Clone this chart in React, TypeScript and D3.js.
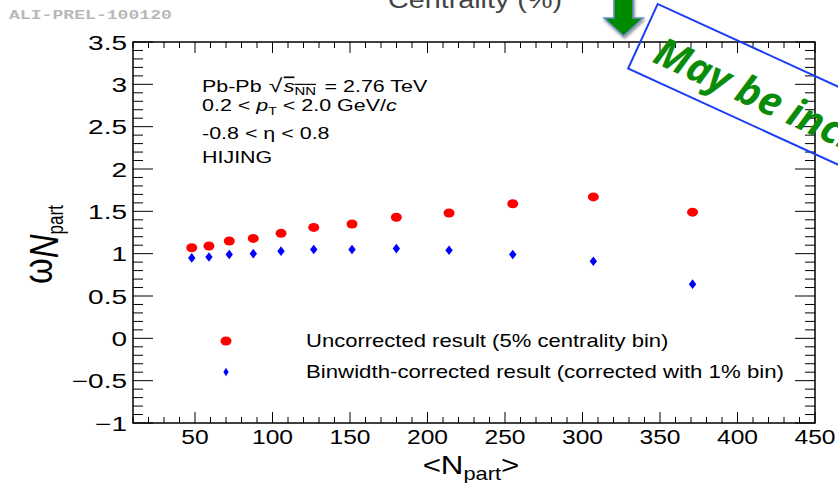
import React from "react";
import * as d3 from "d3";

const nPart = [47.9, 59, 72.1, 87.6, 105.5, 126.6, 151.3, 179.9, 213.9, 255, 307, 371];
const uncorrected = [1.07, 1.09, 1.15, 1.18, 1.24, 1.31, 1.35, 1.43, 1.48, 1.59, 1.67, 1.49];
const corrected = [0.95, 0.96, 0.99, 1.0, 1.03, 1.05, 1.05, 1.06, 1.04, 0.99, 0.91, 0.64];
const xTicks = [50, 100, 150, 200, 250, 300, 350, 400, 450];
const yTicks = [-1, -0.5, 0, 0.5, 1, 1.5, 2, 2.5, 3, 3.5];
const legendLabels = [
  "Uncorrected result (5% centrality bin)",
  "Binwidth-corrected result (corrected with 1% bin)",
];
const infoLines = ["0.2 < p", "-0.8 < η < 0.8", "HIJING"];

const W = 838;
const H = 483;
const L = 133, R = 815, T = 42, B = 423;
const FONT = "'Liberation Sans', Arial, Helvetica, sans-serif";

const x = d3.scaleLinear().domain([10, 450]).range([L, R]);
const y = d3.scaleLinear().domain([-1, 3.5]).range([B, T]);

function ST({ x: px, y: py, sx = 1.22, size, anchor = "start", children, ...rest }: any) {
  return (
    <text
      transform={`translate(${px},${py}) scale(${sx},1)`}
      fontSize={size}
      textAnchor={anchor}
      fontFamily={FONT}
      {...rest}
    >
      {children}
    </text>
  );
}

function fmt(v: number) {
  const s = String(v);
  return s.startsWith("-") ? "\u2212" + s.slice(1) : s;
}

function Diamond({ cx, cy, w, h, fill }: any) {
  return (
    <path
      d={`M${cx},${cy - h} L${cx + w},${cy} L${cx},${cy + h} L${cx - w},${cy} Z`}
      fill={fill}
    />
  );
}

export default function App() {
  const xMinor = d3.range(10, 451, 10);
  const yMinor = d3.range(-1, 3.5001, 0.1);
  const ang = 24.6;
  return (
    <svg
      width={W}
      height={H}
      style={{ position: "absolute", left: 0, top: 0, background: "#fff" }}
    >
      <defs>
        <filter id="shadow" x="-50%" y="-50%" width="200%" height="200%">
          <feDropShadow dx="1" dy="2" stdDeviation="1.5" floodColor="#000" floodOpacity="0.45" />
        </filter>
      </defs>
      <rect width={W} height={H} fill="#fff" />
      {/* watermark */}
      <ST x={9} y={19} sx={1.45} size={12.5} fontFamily="'Liberation Mono', monospace" fill="#b8b8b8" fontWeight="bold">
        ALI-PREL-100120
      </ST>
      {/* cut top title */}
      <ST x={475} y={8} sx={1.25} size={23} anchor="middle" fill="#444">
        Centrality (%)
      </ST>
      {/* arrow */}
      <path
        d="M614,-3 L633,-3 L633,18 L643,18 L623.5,36 L604,18 L614,18 Z"
        fill="#008a00"
        stroke="#6a8fc8"
        strokeWidth={1.5}
        filter="url(#shadow)"
      />

      {/* ticks */}
      <g stroke="#000" strokeWidth={1}>
        {xMinor.map((v) => {
          const major = v % 50 === 0;
          const len = major ? 11 : 6;
          return (
            <g key={"xm" + v}>
              <line x1={x(v)} x2={x(v)} y1={B} y2={B - len} />
              <line x1={x(v)} x2={x(v)} y1={T} y2={T + len} />
            </g>
          );
        })}
        {yMinor.map((v, i) => {
          const major = i % 5 === 0;
          const len = major ? 20 : 10;
          return (
            <g key={"ym" + i}>
              <line x1={L} x2={L + len} y1={y(v)} y2={y(v)} />
              <line x1={R} x2={R - len} y1={y(v)} y2={y(v)} />
            </g>
          );
        })}
      </g>
      <rect x={L} y={T} width={R - L} height={B - T} fill="none" stroke="#000" strokeWidth={1.5} />

      {/* tick labels */}
      {xTicks.map((v) => (
        <ST key={"xl" + v} x={x(v)} y={444} size={20.5} sx={1.2} anchor="middle">
          {v}
        </ST>
      ))}
      {yTicks.map((v) => (
        <ST key={"yl" + v} x={127} y={y(v) + 7.5} size={20} sx={1.4} anchor="end">
          {fmt(v)}
        </ST>
      ))}

      {/* axis titles */}
      <ST x={471} y={474} size={25} sx={1.25} anchor="middle">
        {"<N"}
        <tspan fontSize={17.5} dy={6}>part</tspan>
        <tspan dy={-6}>{">"}</tspan>
      </ST>
      <g transform="translate(52,284) scale(1.25,1) rotate(-90)">
        <text fontFamily={FONT} fontSize={33}>
          ω
          <tspan fontStyle="italic" dy={5}>N</tspan>
          <tspan fontSize={17} dy={4}>part</tspan>
        </text>
      </g>

      {/* info text */}
      <ST x={202} y={92} size={16.5} sx={1.3}>
        Pb-Pb <tspan fontSize={19} dx={1}>√</tspan>
        <tspan fontStyle="italic" textDecoration="overline" dx={1}>s</tspan>
        <tspan fontSize={11.5} dy={3} textDecoration="overline">NN</tspan>
        <tspan dy={-3} dx={2}> = 2.76 TeV</tspan>
      </ST>
      <ST x={202} y={111} size={16.5} sx={1.3}>
        0.2 &lt; <tspan fontStyle="italic">p</tspan>
        <tspan fontSize={11} dy={4}>T</tspan>
        <tspan dy={-4}> &lt; 2.0 GeV/</tspan>
        <tspan fontStyle="italic">c</tspan>
      </ST>
      <ST x={202} y={139} size={16.5} sx={1.3}>
        {infoLines[1]}
      </ST>
      <ST x={202} y={163} size={16.5} sx={1.3}>
        {infoLines[2]}
      </ST>

      {/* data */}
      {nPart.map((n, i) => (
        <ellipse key={"r" + i} cx={x(n)} cy={y(uncorrected[i])} rx={5.5} ry={4.5} fill="#ff0000" />
      ))}
      {nPart.map((n, i) => (
        <Diamond key={"b" + i} cx={x(n)} cy={y(corrected[i])} w={3.7} h={4.8} fill="#0000ff" />
      ))}

      {/* legend */}
      <ellipse cx={226} cy={341} rx={5.5} ry={4.5} fill="#ff0000" />
      <Diamond cx={226} cy={372} w={2.6} h={4.3} fill="#0000ff" />
      <ST x={306} y={347} size={18} sx={1.225}>
        {legendLabels[0]}
      </ST>
      <ST x={306} y={378} size={18} sx={1.235}>
        {legendLabels[1]}
      </ST>

      {/* overlay stamp */}
      <g transform={`translate(657.7,4) rotate(${ang})`}>
        <rect x={0} y={0} width={400} height={71} fill="none" stroke="#1a3cf5" strokeWidth={2} />
        <text
          x={18}
          y={55}
          fontFamily="'Open Sans', 'Noto Sans', sans-serif"
          fontWeight="bold"
          fontStyle="italic"
          fontSize={40}
          fill="#0a8c0a"
        >
          May be included
        </text>
      </g>
    </svg>
  );
}
